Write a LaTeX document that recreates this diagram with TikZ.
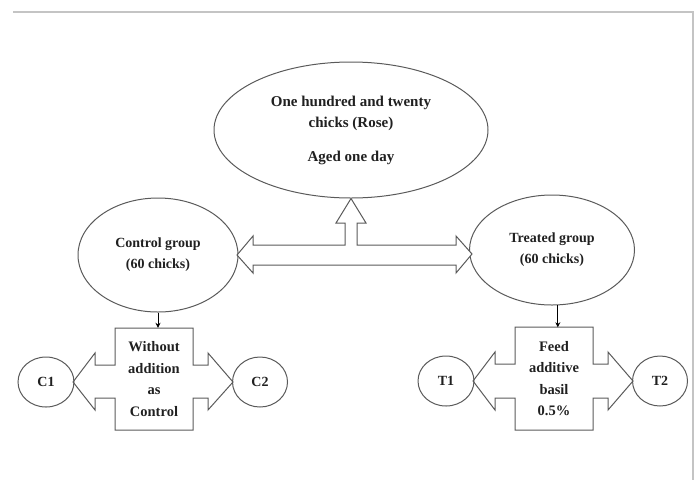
\documentclass[tikz,border=0pt]{standalone}
\usepackage{fontspec}
\setmainfont{Liberation Serif}
\usetikzlibrary{shapes.geometric,arrows.meta}
\definecolor{linegray}{HTML}{5A5A5A}
\definecolor{framegray}{HTML}{C4C4C4}
\definecolor{txt}{HTML}{202020}
\begin{document}
\begin{tikzpicture}[x=1pt,y=-1pt,
  shp/.style={draw=linegray,line width=1pt},
  oval/.style={shp,ellipse,inner sep=0pt,align=center,text=txt,
    font=\bfseries\fontsize{14}{21}\selectfont},
  boxtext/.style={inner sep=0pt,align=center,text=txt,minimum width=78pt,minimum height=102pt,
    font=\bfseries\fontsize{14.5}{21.5}\selectfont},
  smallarrow/.style={draw=black,line width=0.8pt,-{Stealth[length=5pt,width=5pt]}}]
\useasboundingbox (0,0) rectangle (700,480);
% frame
\draw[framegray,line width=2pt] (13,12) -- (693,12) -- (693,480);
% ellipses
\node[oval,minimum width=274pt,minimum height=136pt,font=\bfseries\fontsize{15}{21}\selectfont] (top) at (351,130)
  {One hundred and twenty\\chicks (Rose)\\[13pt]Aged one day};
\node[oval,minimum width=160pt,minimum height=114pt] (ctrl) at (158,255) {Control group\\(60 chicks)};
\node[oval,minimum width=165pt,minimum height=110pt] (trt) at (552,250) {Treated group\\(60 chicks)};
% block arrow from the top ellipse to both groups
\draw[shp,fill=white] (237,255) -- (253,236) -- (253,245) -- (345,245) -- (345,223) -- (336,223)
  -- (top.south) -- (366,223) -- (357,223) -- (357,245) -- (456,245) -- (456,236) -- (472,254)
  -- (456,273) -- (456,265) -- (253,265) -- (253,273) -- cycle;
% cross boxes
\draw[shp] (115,328) -- (193,328) -- (193,365) -- (208,365) -- (208,353) -- (233,382) -- (208,410)
  -- (208,398) -- (193,398) -- (193,430) -- (115,430) -- (115,398) -- (95,398) -- (95,410)
  -- (73,382) -- (95,353) -- (95,365) -- (115,365) -- cycle;
\node[boxtext] (cbox) at (154,379) {Without\\addition\\as\\Control};
\draw[shp] (515,327) -- (593,327) -- (593,364) -- (608,364) -- (608,352) -- (633,381) -- (608,410)
  -- (608,398) -- (593,398) -- (593,430) -- (515,430) -- (515,398) -- (495,398) -- (495,410)
  -- (473,381) -- (495,352) -- (495,364) -- (515,364) -- cycle;
\node[boxtext] (tbox) at (554,378.5) {Feed\\additive\\basil\\0.5\%};
% small circles
\node[oval,minimum width=56pt,minimum height=50pt] (c1) at (46,382) {C1};
\node[oval,minimum width=55pt,minimum height=50pt] (c2) at (260,382) {C2};
\node[oval,minimum width=56pt,minimum height=50pt] (t1) at (446,381) {T1};
\node[oval,minimum width=55pt,minimum height=50pt] (t2) at (660,381) {T2};
% small arrows
\draw[smallarrow] (ctrl.south) -- (ctrl.south |- cbox.north);
\draw[smallarrow] (trt.-84) -- (trt.-84 |- tbox.north);
\end{tikzpicture}
\end{document}
